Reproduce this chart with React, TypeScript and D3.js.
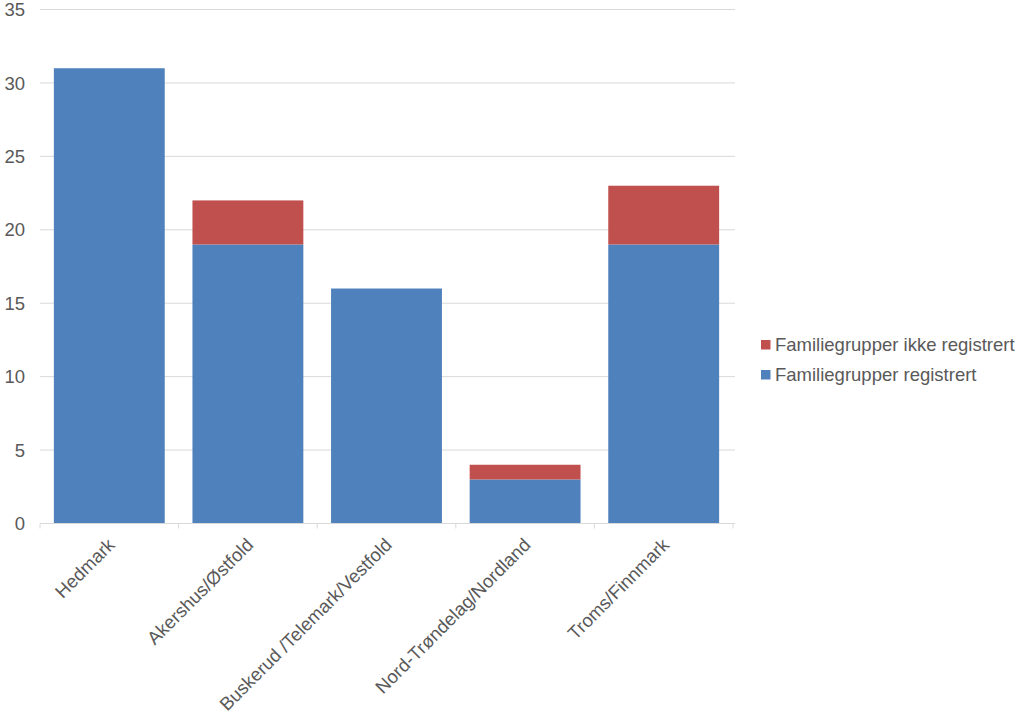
import React from "react";
import * as d3 from "d3";

const categories = ["Hedmark", "Akershus/Østfold", "Buskerud /Telemark/Vestfold", "Nord-Trøndelag/Nordland", "Troms/Finnmark"];
const registrert = [31, 19, 16, 3, 19];
const ikkeRegistrert = [0, 3, 0, 1, 4];
const yTicks = [0, 5, 10, 15, 20, 25, 30, 35];
const seriesNames = ["Familiegrupper registrert", "Familiegrupper ikke registrert"];
const colors = ["#4F81BD", "#C0504D"];

export default function App() {
  const W = 1023, H = 718;
  const left = 40, right = 733, top = 9.5, bottom = 523.5;
  const x = d3.scaleBand<string>().domain(categories).range([left, right]).paddingInner(0.2).paddingOuter(0.1);
  const y = d3.scaleLinear().domain([0, 35]).range([bottom, top]);
  const step = x.step();
  const font = "'Liberation Sans', Arial, sans-serif";
  const textColor = "#595959";
  const fs = 18.5;
  const stackData = categories.map((c, i) => ({ c, a: registrert[i], b: ikkeRegistrert[i] }));
  const stacked = d3.stack<any>().keys(["a", "b"])(stackData);

  return (
    <svg width={W} height={H} style={{ position: "absolute", left: 0, top: 0, background: "#fff" }} fontFamily={font}>
      {yTicks.map((t) => (
        <g key={t}>
          {t !== 0 && <line x1={left} x2={right + 2} y1={y(t)} y2={y(t)} stroke="#D9D9D9" strokeWidth={1} />}
          <text x={25} y={y(t)} dy="0.36em" textAnchor="end" fontSize={fs} fill={textColor}>{t}</text>
        </g>
      ))}
      {stacked.map((s, si) =>
        s.map((d, i) => (
          <rect key={si + "-" + i} x={x(categories[i])} width={x.bandwidth()} y={y(d[1])} height={y(d[0]) - y(d[1])} fill={colors[si]} />
        ))
      )}
      <line x1={left} x2={right + 2} y1={bottom} y2={bottom} stroke="#D9D9D9" strokeWidth={1} />
      {d3.range(categories.length + 1).map((i) => (
        <line key={i} x1={left + i * step} x2={left + i * step} y1={bottom} y2={bottom + 5} stroke="#D9D9D9" />
      ))}
      {categories.map((c) => {
        const cx = (x(c) as number) + x.bandwidth() / 2 + 2;
        const cy = bottom + 18;
        return (
          <text key={c} x={cx} y={cy} textAnchor="end" fontSize={fs} fill={textColor} transform={`rotate(-45 ${cx} ${cy})`} dy="0.35em">{c}</text>
        );
      })}
      {[1, 0].map((si, k) => (
        <g key={si}>
          <rect x={761} y={340 + k * 30} width={9.5} height={9.5} fill={colors[si]} />
          <text x={775} y={345 + k * 30} dy="0.35em" fontSize={fs} fill={textColor}>{seriesNames[si]}</text>
        </g>
      ))}
    </svg>
  );
}
